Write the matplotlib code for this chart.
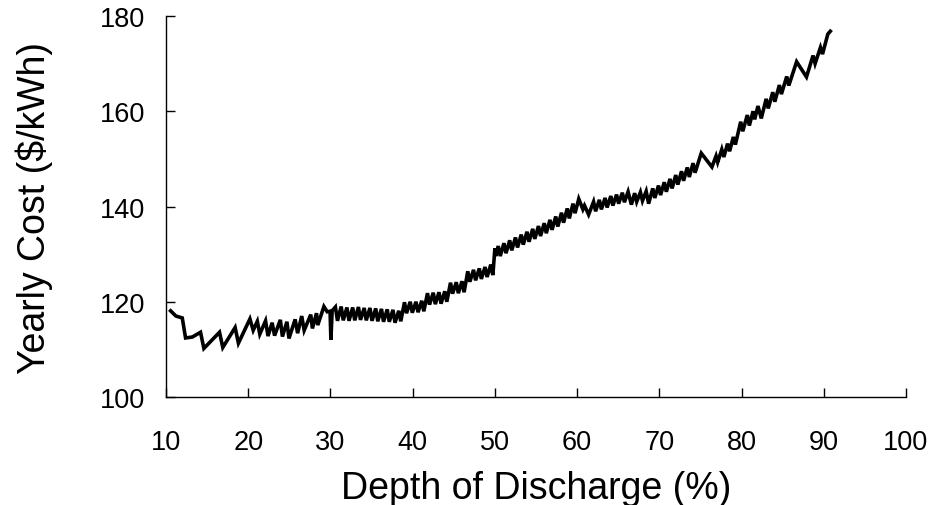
import matplotlib
matplotlib.use("Agg")
import matplotlib.pyplot as plt

plt.rcParams['font.family'] = ['Liberation Sans', 'DejaVu Sans']

# Depth of discharge (%) and yearly cost ($/kWh)
dod = [
    10.55, 11.2, 11.97, 12.37, 13.2, 14.19, 14.6, 16.5, 16.9, 18.4, 18.8, 20.2,
    20.6, 21.1, 21.4, 22.1, 22.4, 22.9, 23.2, 23.9, 24.15, 24.7, 24.95, 25.7,
    26.0, 26.5, 26.8, 27.6, 27.8, 28.3, 28.45, 29.2, 29.6, 29.95, 30.05, 30.2,
    30.6, 30.85, 31.3, 31.55, 32.0, 32.25, 32.7, 32.95, 33.4, 33.65, 34.1, 34.35,
    34.8, 35.05, 35.5, 35.75, 36.2, 36.45, 36.9, 37.15, 37.6, 37.85, 38.3, 38.55,
    39.0, 39.25, 39.7, 39.95, 40.4, 40.65, 41.1, 41.35, 41.8, 42.05, 42.5, 42.75,
    43.2, 43.45, 43.9, 44.15, 44.6, 44.85, 45.3, 45.55, 46.0, 46.25, 46.7, 46.95,
    47.4, 47.65, 48.1, 48.35, 48.8, 49.05, 49.5, 49.75, 50.0, 50.1,
    50.4, 50.65, 51.1, 51.35, 51.8, 52.05, 52.5, 52.75, 53.2, 53.45, 53.9, 54.15,
    54.6, 54.85, 55.3, 55.55, 56.0, 56.25, 56.7, 56.95, 57.4, 57.65, 58.1, 58.35,
    58.8, 59.05, 59.5, 59.75, 60.2, 60.7, 60.9, 61.4,
    62.0, 62.25, 62.7, 62.95, 63.4, 63.65, 64.1, 64.35, 64.8, 65.05, 65.5, 65.75,
    66.2, 66.6, 67.0, 67.25, 67.7, 67.95, 68.4, 68.7, 69.2, 69.45, 69.9, 70.15,
    70.6, 70.85, 71.3, 71.55, 72.0, 72.25, 72.7, 72.95, 73.4, 73.65, 74.1, 74.35,
    75.1, 76.4, 76.9, 77.1, 77.6, 77.85, 78.3, 78.55, 79.0, 79.25,
    79.9, 80.15, 80.7, 80.95, 81.4, 81.6, 82.0, 82.4, 83.0, 83.25, 83.8, 84.05,
    84.6, 84.85, 85.5, 85.75, 86.7, 87.9, 88.7, 88.95, 89.6, 89.85, 90.5, 90.8,
]
cost = [
    118.1, 117.0, 116.6, 112.4, 112.6, 113.6, 110.2, 113.6, 110.4, 114.6, 111.3, 116.4,
    114.0, 115.9, 113.2, 116.0, 112.8, 115.6, 112.9, 116.2, 112.7, 115.8, 112.3, 116.3,
    113.4, 117.0, 114.0, 117.3, 114.4, 117.6, 115.1, 119.0, 117.9, 118.0, 112.0, 118.1,
    118.9, 116.0, 119.0, 116.1, 118.8, 116.0, 118.8, 116.1, 118.9, 116.2, 118.7, 116.1,
    118.7, 116.0, 118.6, 115.9, 118.5, 115.8, 118.4, 115.8, 118.3, 115.6, 118.1, 115.9,
    119.9, 117.6, 120.0, 117.7, 120.0, 117.8, 120.2, 118.0, 121.8, 119.4, 121.9, 119.5,
    122.0, 119.6, 122.2, 120.0, 124.0, 121.7, 124.1, 121.8, 124.3, 122.0, 126.4, 124.2,
    126.7, 124.5, 127.0, 124.8, 127.3, 125.2, 127.8, 125.6, 131.2, 129.6,
    131.7, 129.6, 132.3, 130.2, 132.9, 130.8, 133.5, 131.4, 134.1, 132.0, 134.7, 132.6,
    135.3, 133.2, 135.9, 133.8, 136.5, 134.4, 137.2, 135.1, 137.9, 135.8, 138.7, 136.6,
    139.6, 137.5, 140.6, 138.6, 141.6, 139.4, 140.2, 138.3,
    141.0, 139.0, 141.4, 139.4, 141.8, 139.8, 142.2, 140.2, 142.5, 140.6, 142.9, 140.9,
    143.1, 140.4, 142.8, 141.0, 143.0, 141.2, 143.2, 140.6, 143.8, 141.8, 144.4, 142.4,
    145.1, 143.1, 145.8, 143.8, 146.6, 144.6, 147.4, 145.4, 148.2, 146.2, 149.1, 147.1,
    151.2, 148.3, 150.6, 149.3, 152.0, 150.4, 153.2, 151.6, 154.6, 153.0,
    157.8, 155.8, 159.2, 157.0, 160.0, 158.3, 161.1, 158.5, 162.6, 160.6, 164.0, 162.0,
    165.5, 163.6, 167.3, 165.4, 170.4, 167.2, 171.7, 170.0, 173.4, 172.0, 176.2, 176.8,
]

x_ticks = [10, 20, 30, 40, 50, 60, 70, 80, 90, 100]
y_ticks = [100, 120, 140, 160, 180]

fig = plt.figure(figsize=(9.33, 5.06), dpi=100)
ax = fig.add_axes([0.178, 0.2134, 0.793, 0.753])
ax.plot(dod, cost, color='black', linewidth=2.6, solid_joinstyle='miter')

ax.set_xlim(10, 100)
ax.set_ylim(100, 180)
ax.set_xticks(x_ticks)
ax.set_yticks(y_ticks)
ax.tick_params(direction='in', length=6.5, width=1.0, labelsize=19.5)
ax.tick_params(axis='x', pad=23)
ax.tick_params(axis='y', pad=15)
for s in ['top', 'right']:
    ax.spines[s].set_visible(False)
for s in ['left', 'bottom']:
    ax.spines[s].set_linewidth(1.0)

ax.set_xlabel('Depth of Discharge (%)', fontsize=27, labelpad=11)
ax.set_ylabel('Yearly Cost ($/kWh)', fontsize=27, labelpad=34)

fig.savefig('out.png', dpi=100)
